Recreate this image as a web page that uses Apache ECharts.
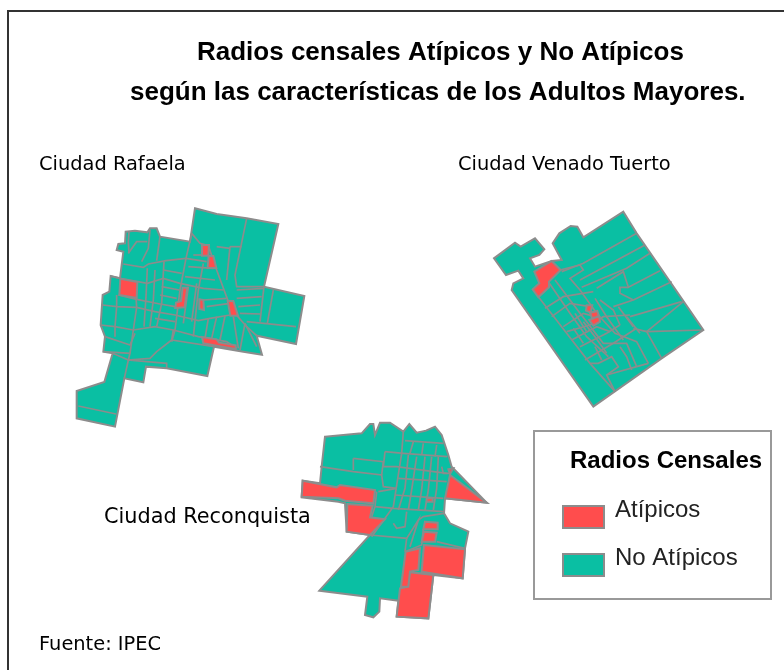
<!DOCTYPE html>
<html>
<head>
<meta charset="utf-8">
<style>
    html, body { margin: 0; padding: 0; background: #fff; }
    #chart { width: 784px; height: 670px; }
</style>
<script src="https://cdn.jsdelivr.net/npm/echarts@6/dist/echarts.min.js"></script>
</head>
<body>
<div id="chart"></div>
<script>
    var CLASES = ['Atípicos', 'No Atípicos'];
    var TITULO = ['Radios censales Atípicos y No Atípicos', 'según las características de los Adultos Mayores.'];

    // Traced at 3x, each city has its own origin (see ciudades below)

    // Rafaela
    var rafaelaContorno = [[405,55],[470,72],[560,85],[655,102],[612,290],[733,318],[708,462],[590,437],[606,494],[550,485],[462,470],[442,558],[320,535],[258,530],[250,577],[193,565],[165,710],[50,685],[50,603],[133,576],[158,490],[130,485],[135,440],[122,405],[128,315],[148,305],[152,258],[180,265],[190,185],[170,180],[175,162],[195,160],[197,125],[225,122],[262,127],[270,115],[290,115],[300,140],[390,155]];
    var rafaelaAtipicos = [
        [[181,266],[232,276],[230,324],[178,315]],
        [[426,165],[447,165],[445,197],[426,197]],
        [[446,197],[460,198],[469,234],[443,234]],
        [[368,293],[382,293],[374,352],[346,354],[348,338],[363,333]],
        [[418,328],[430,330],[432,360],[418,357]],
        [[503,333],[520,333],[534,377],[511,377]],
        [[426,441],[470,448],[477,458],[527,466],[527,477],[470,467],[430,460]]
    ];
    var rafaelaCalles = [
        [[395,130],[420,160],[445,167],[470,240],[505,335],[532,378],[560,410],[590,437]],
        [[560,85],[525,255],[530,290],[612,290]],
        [[395,130],[378,205],[360,300],[345,420],[335,455]],
        [[190,222],[250,232],[265,222],[318,212],[378,205],[440,215]],
        [[300,140],[290,212]],
        [[270,120],[265,175],[245,215]],
        [[205,190],[230,155],[262,155]],
        [[207,125],[205,155],[207,190]],
        [[152,258],[180,265],[262,280],[310,265],[360,280],[430,295],[490,300]],
        [[175,315],[230,328],[300,342],[345,350]],
        [[128,345],[170,350],[230,352],[285,365],[345,375],[415,392],[450,385],[510,375]],
        [[122,405],[165,410],[220,420],[285,410],[340,420],[415,440],[500,455],[530,475]],
        [[135,440],[210,465],[225,430]],
        [[130,485],[210,490],[205,510],[320,520],[320,535]],
        [[340,420],[335,450],[290,485],[270,505],[205,510],[193,565]],
        [[335,450],[462,470]],
        [[205,510],[158,490]],
        [[228,322],[230,352],[220,420],[210,490]],
        [[170,315],[170,350],[165,410],[165,440]],
        [[262,235],[258,320],[252,410]],
        [[285,240],[280,330],[270,410]],
        [[312,215],[305,340],[290,410]],
        [[55,648],[168,672]],
        [[612,290],[600,395]],
        [[640,300],[622,400]],
        [[560,395],[708,410]],
        [[530,300],[612,295]],
        [[530,325],[605,320]],
        [[535,350],[600,345]],
        [[540,370],[600,372]],
        [[410,280],[395,395]],
        [[385,290],[370,400]],
        [[430,220],[415,300],[400,440]],
        [[445,385],[435,445]],
        [[470,380],[455,445]],
        [[495,378],[480,450]],
        [[520,380],[535,475]],
        [[555,400],[540,480]],
        [[555,400],[590,470]],
        [[400,195],[440,195]],
        [[385,230],[460,235]],
        [[375,260],[465,270]],
        [[430,330],[500,325]],
        [[440,350],[510,340]],
        [[510,170],[500,270]],
        [[470,170],[510,175]],
        [[545,170],[510,170]],
        [[310,240],[365,250]],
        [[305,290],[358,300]],
        [[300,315],[350,325]],
        [[285,385],[345,395]]
    ];

    // Venado Tuerto
    var venadoContorno = [[430,35],[470,100],[670,390],[545,475],[340,620],[95,270],[100,250],[130,235],[115,212],[78,225],[42,175],[105,128],[122,140],[165,115],[193,148],[178,165],[150,175],[165,200],[215,183],[245,180],[218,130],[238,100],[272,78],[292,80],[310,112]];
    var venadoAtipicos = [
        [[163,215],[215,183],[242,210],[207,245],[207,262],[175,292],[158,268],[178,250]],
        [[320,316],[337,316],[332,337],[318,332]],
        [[330,338],[352,333],[357,350],[336,354]],
        [[328,360],[357,348],[360,365],[340,377]]
    ];
    var venadoCalles = [
        [[175,290],[260,400],[330,490],[405,575]],
        [[470,100],[310,190],[245,215]],
        [[495,135],[300,240]],
        [[510,160],[440,205],[305,262]],
        [[540,212],[445,262],[430,215],[350,265]],
        [[445,262],[420,262],[420,280],[460,300]],
        [[575,245],[460,300],[400,320]],
        [[605,305],[450,350]],
        [[670,390],[500,395],[545,475]],
        [[610,305],[500,395]],
        [[460,385],[500,395]],
        [[240,210],[300,195],[310,210],[270,235],[300,270],[350,340],[405,400],[470,425],[505,490]],
        [[205,245],[270,340],[320,410],[385,470]],
        [[225,240],[300,340],[370,430],[440,430],[470,500]],
        [[195,325],[250,290],[340,275]],
        [[215,350],[270,310],[330,320]],
        [[250,380],[310,340],[345,350]],
        [[260,395],[330,375],[370,350],[450,345]],
        [[275,420],[350,380],[390,395]],
        [[300,440],[380,400],[420,375]],
        [[330,490],[355,490],[395,470],[415,500],[380,525],[405,575]],
        [[315,480],[400,430],[470,385]],
        [[345,440],[365,480]],
        [[420,440],[440,470],[455,510]],
        [[380,525],[470,500],[505,490]],
        [[360,300],[400,330],[420,375]],
        [[345,295],[380,350],[430,420]],
        [[310,365],[345,410],[380,460]],
        [[285,340],[320,395]],
        [[280,385],[310,430]],
        [[440,350],[480,400]],
        [[415,320],[460,380]]
    ];

    // Reconquista
    var reconquistaContorno = [[105,80],[215,70],[240,42],[250,42],[255,75],[270,38],[300,38],[340,65],[358,42],[380,68],[408,62],[435,50],[455,75],[475,135],[485,170],[590,278],[465,265],[462,310],[480,340],[535,365],[525,415],[518,505],[430,495],[415,625],[320,620],[325,572],[270,565],[268,605],[250,622],[225,615],[232,560],[88,542],[240,375],[170,365],[165,280],[145,275],[35,262],[38,212],[90,220],[95,170]];
    var reconquistaAtipicos = [
        [[38,212],[140,232],[150,225],[255,240],[250,280],[165,272],[145,265],[35,260]],
        [[172,282],[248,287],[240,322],[285,328],[240,375],[170,365]],
        [[480,195],[590,278],[465,265]],
        [[475,178],[490,175],[480,192]],
        [[410,265],[428,265],[428,275],[410,275]],
        [[405,335],[443,338],[443,358],[400,358]],
        [[402,365],[440,368],[435,395],[395,395]],
        [[347,425],[390,415],[385,480],[360,485],[355,530],[333,530]],
        [[402,405],[525,418],[518,505],[395,485]],
        [[360,487],[430,495],[415,625],[320,620],[330,535],[355,530]]
    ];
    var reconquistaCalles = [
        [[90,170],[190,185],[275,195],[280,230],[320,235]],
        [[190,145],[280,155],[275,195]],
        [[190,145],[190,180]],
        [[285,125],[340,130],[472,140]],
        [[340,65],[335,130],[310,290],[245,380]],
        [[285,125],[280,170],[320,170],[470,190]],
        [[240,375],[350,385],[345,425]],
        [[350,385],[385,330],[360,410]],
        [[255,290],[310,295],[462,305]],
        [[260,245],[255,290],[245,320]],
        [[265,245],[320,235]],
        [[310,340],[320,355],[345,350],[350,305]],
        [[385,330],[400,320],[462,310]],
        [[440,395],[525,415]],
        [[345,92],[460,100]],
        [[370,95],[360,130]],
        [[400,100],[395,135]],
        [[440,105],[435,140]],
        [[355,135],[345,235],[325,300]],
        [[380,140],[365,240],[355,300]],
        [[405,140],[395,240],[385,300]],
        [[425,140],[415,240],[405,300]],
        [[445,140],[440,235],[430,300]],
        [[325,205],[470,215]],
        [[315,255],[460,265]],
        [[455,170],[460,190],[480,190]],
        [[400,358],[395,405],[345,425]]
    ];

    var ciudades = [
        { contorno: rafaelaContorno, atipicos: rafaelaAtipicos, calles: rafaelaCalles, x0: 60, y0: 190 },
        { contorno: venadoContorno, atipicos: venadoAtipicos, calles: venadoCalles, x0: 480, y0: 200 },
        { contorno: reconquistaContorno, atipicos: reconquistaAtipicos, calles: reconquistaCalles, x0: 290, y0: 410 }
    ];

    // 3x trace -> map units, y goes up on a map
    function toMap(ciudad, puntos) {
        return puntos.map(function (p) {
            return [ciudad.x0 + p[0] / 3, -(ciudad.y0 + p[1] / 3)];
        });
    }

    var poligonosAtipicos = [], poligonosNo = [], calles = [];

    ciudades.forEach(function (c) {
        poligonosNo.push([toMap(c, c.contorno)]);
        c.atipicos.forEach(function (r) {
            poligonosAtipicos.push([toMap(c, r)]);
        });
        c.calles.forEach(function (l) {
            calles.push({ coords: toMap(c, l) });
        });
    });

    function mapaDe(poligonos) {
        return {
            type: 'FeatureCollection',
            features: [{
                type: 'Feature',
                properties: { name: 'radios' },
                geometry: { type: 'MultiPolygon', coordinates: poligonos }
            }]
        };
    }

    echarts.registerMap('noAtipicos', mapaDe(poligonosNo));
    echarts.registerMap('atipicos', mapaDe(poligonosAtipicos));

    var GRIS = '#8c8c8c', ROJO = '#ff4d4d', VERDE = '#0abfa3';
    var fuente = '"Liberation Sans", Arial, sans-serif';
    var fuenteCiudad = '"DejaVu Sans", sans-serif';

    function rotulo(texto, x, y, size, weight, family) {
        return {
            text: texto,
            left: x,
            top: y,
            padding: 0,
            textStyle: { fontFamily: family || fuente, fontSize: size, fontWeight: weight || 'normal', color: '#000' }
        };
    }

    // same box for the map series and for the hidden geo that carries the lines
    var cajaMapa = {
        aspectScale: 1,
        left: 0,
        top: 0,
        width: 784,
        height: 670,
        boundingCoords: [[0, 0], [784, -670]]
    };

    function serieMapa(nombre, mapa, color, z) {
        return Object.assign({
            name: nombre,
            type: 'map',
            map: mapa,
            z: z,
            silent: true,
            roam: false,
            showLegendSymbol: false,
            label: { show: false },
            itemStyle: { areaColor: color, color: color, borderColor: GRIS, borderWidth: 2 },
            data: [{ name: 'radios', value: 1 }]
        }, cajaMapa);
    }

    var chart = echarts.init(document.getElementById('chart'));

    chart.setOption({
        animation: false,
        backgroundColor: '#fff',
        title: [
            rotulo(TITULO[0], 197, 40, 26, 'bold'),
            rotulo(TITULO[1], 130, 80, 26, 'bold'),
            rotulo('Ciudad Rafaela', 39, 155, 19.4, 'normal', fuenteCiudad),
            rotulo('Ciudad Venado Tuerto', 458, 155, 19.4, 'normal', fuenteCiudad),
            rotulo('Ciudad Reconquista', 104, 507, 20.8, 'normal', fuenteCiudad),
            rotulo('Fuente: IPEC', 39, 635, 19.4, 'normal', fuenteCiudad),
            rotulo('Radios Censales', 570, 449, 24, 'bold')
        ],
        legend: {
            orient: 'vertical',
            left: 562,
            top: 498,
            padding: 0,
            itemWidth: 41,
            itemHeight: 22,
            itemGap: 17,
            selectedMode: false,
            icon: 'rect',
            formatter: '{t|{name}}',
            textStyle: {
                fontFamily: fuente,
                fontSize: 24,
                color: '#222',
                rich: {
                    t: { fontFamily: fuente, fontSize: 24, color: '#222', padding: [0, 0, 14, 6] }
                }
            },
            data: [
                { name: CLASES[0], itemStyle: { color: ROJO, borderColor: GRIS, borderWidth: 2 } },
                { name: CLASES[1], itemStyle: { color: VERDE, borderColor: GRIS, borderWidth: 2 } }
            ]
        },
        geo: Object.assign({
            map: 'noAtipicos',
            show: false,
            silent: true,
            roam: false
        }, cajaMapa),
        series: [
            serieMapa(CLASES[1], 'noAtipicos', VERDE, 1),
            {
                name: 'Límites de radios',
                type: 'lines',
                coordinateSystem: 'geo',
                geoIndex: 0,
                z: 2,
                polyline: true,
                silent: true,
                lineStyle: { color: GRIS, width: 1.7, opacity: 1 },
                data: calles
            },
            serieMapa(CLASES[0], 'atipicos', ROJO, 3)
        ],
        graphic: [{
            type: 'rect',
            silent: true,
            z: -1,
            shape: { x: 8, y: 11, width: 800, height: 680 },
            style: { fill: 'none', stroke: '#333', lineWidth: 2 }
        }, {
            type: 'rect',
            silent: true,
            z: -1,
            shape: { x: 534, y: 431, width: 237, height: 168 },
            style: { fill: 'none', stroke: '#999', lineWidth: 2 }
        }]
    });
</script>
</body>
</html>
